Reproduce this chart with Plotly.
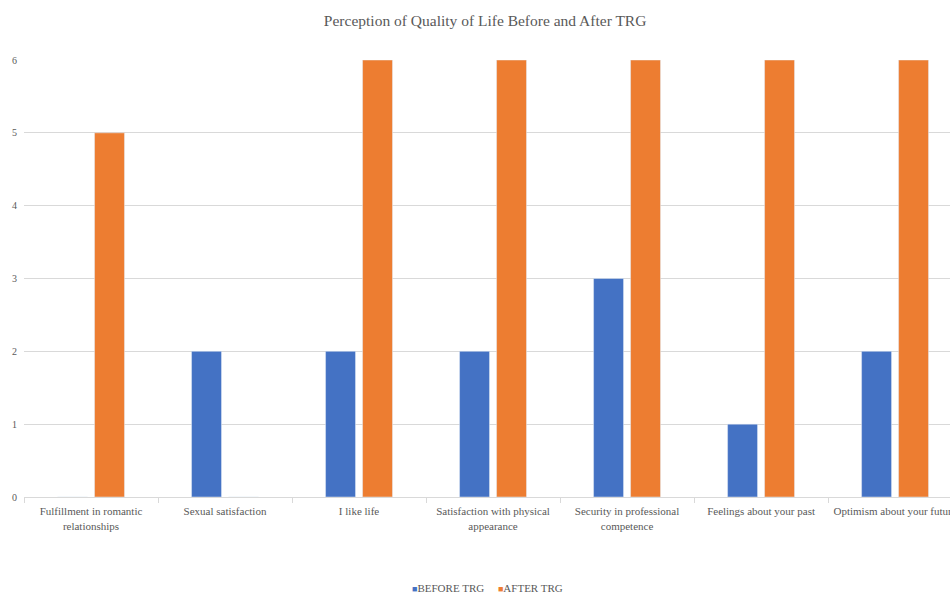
import plotly.graph_objects as go

categories = [
    "Fulfillment in romantic<br>relationships",
    "Sexual satisfaction",
    "I like life",
    "Satisfaction with physical<br>appearance",
    "Security in professional<br>competence",
    "Feelings about your past",
    "Optimism about your future",
]
before_trg = [0, 2, 2, 2, 3, 1, 2]
after_trg = [5, 0, 6, 6, 6, 6, 6]
series_names = ["BEFORE TRG", "AFTER TRG"]
series_colors = ["#4472C4", "#ED7D31"]

font_family = "Liberation Serif, Times New Roman, serif"
text_color = "#595959"

fig = go.Figure()
for name, vals, col in zip(series_names, [before_trg, after_trg], series_colors):
    fig.add_trace(go.Bar(name=name, x=categories, y=vals, marker_color=col, showlegend=False))

legend_text = "&nbsp;&nbsp;&nbsp;&nbsp;&nbsp;".join(
    f"<span style='color:{c};font-size:9px'>■</span>{n}" for n, c in zip(series_names, series_colors)
)

fig.update_layout(
    width=950, height=594,
    margin=dict(l=24, r=0, t=60, b=97, autoexpand=False),
    paper_bgcolor="white", plot_bgcolor="white",
    barmode="group", bargap=0.448, bargroupgap=0.19,
    font=dict(family=font_family, color=text_color, size=11),
    title=dict(text="Perception of Quality of Life Before and After TRG",
               x=0.498, xref="paper", xanchor="center",
               y=1 - 21 / 594, yanchor="middle",
               font=dict(family=font_family, size=15.5, color=text_color)),
    showlegend=False,
    annotations=[dict(text=legend_text, xref="paper", yref="paper",
                      x=(488 - 24) / 926, xanchor="center",
                      y=-(588 - 497) / 437, yanchor="middle",
                      showarrow=False,
                      font=dict(family=font_family, size=11, color=text_color))],
)
fig.update_xaxes(
    type="category", range=[-0.5, 6.41], automargin=False,
    showline=True, linecolor="#d9d9d9", linewidth=1,
    ticks="outside", tickson="boundaries", ticklen=5, tickcolor="#d9d9d9",
    showgrid=False, tickangle=0, ticklabelstandoff=4,
    tickfont=dict(family=font_family, size=11, color=text_color),
)
fig.update_yaxes(
    range=[0, 6], dtick=1, automargin=False,
    showgrid=True, gridcolor="#d9d9d9", gridwidth=1,
    zeroline=False, showline=False, ticks="", ticklabelstandoff=6,
    tickfont=dict(family=font_family, size=10, color=text_color),
)

fig.write_html("out.html")
